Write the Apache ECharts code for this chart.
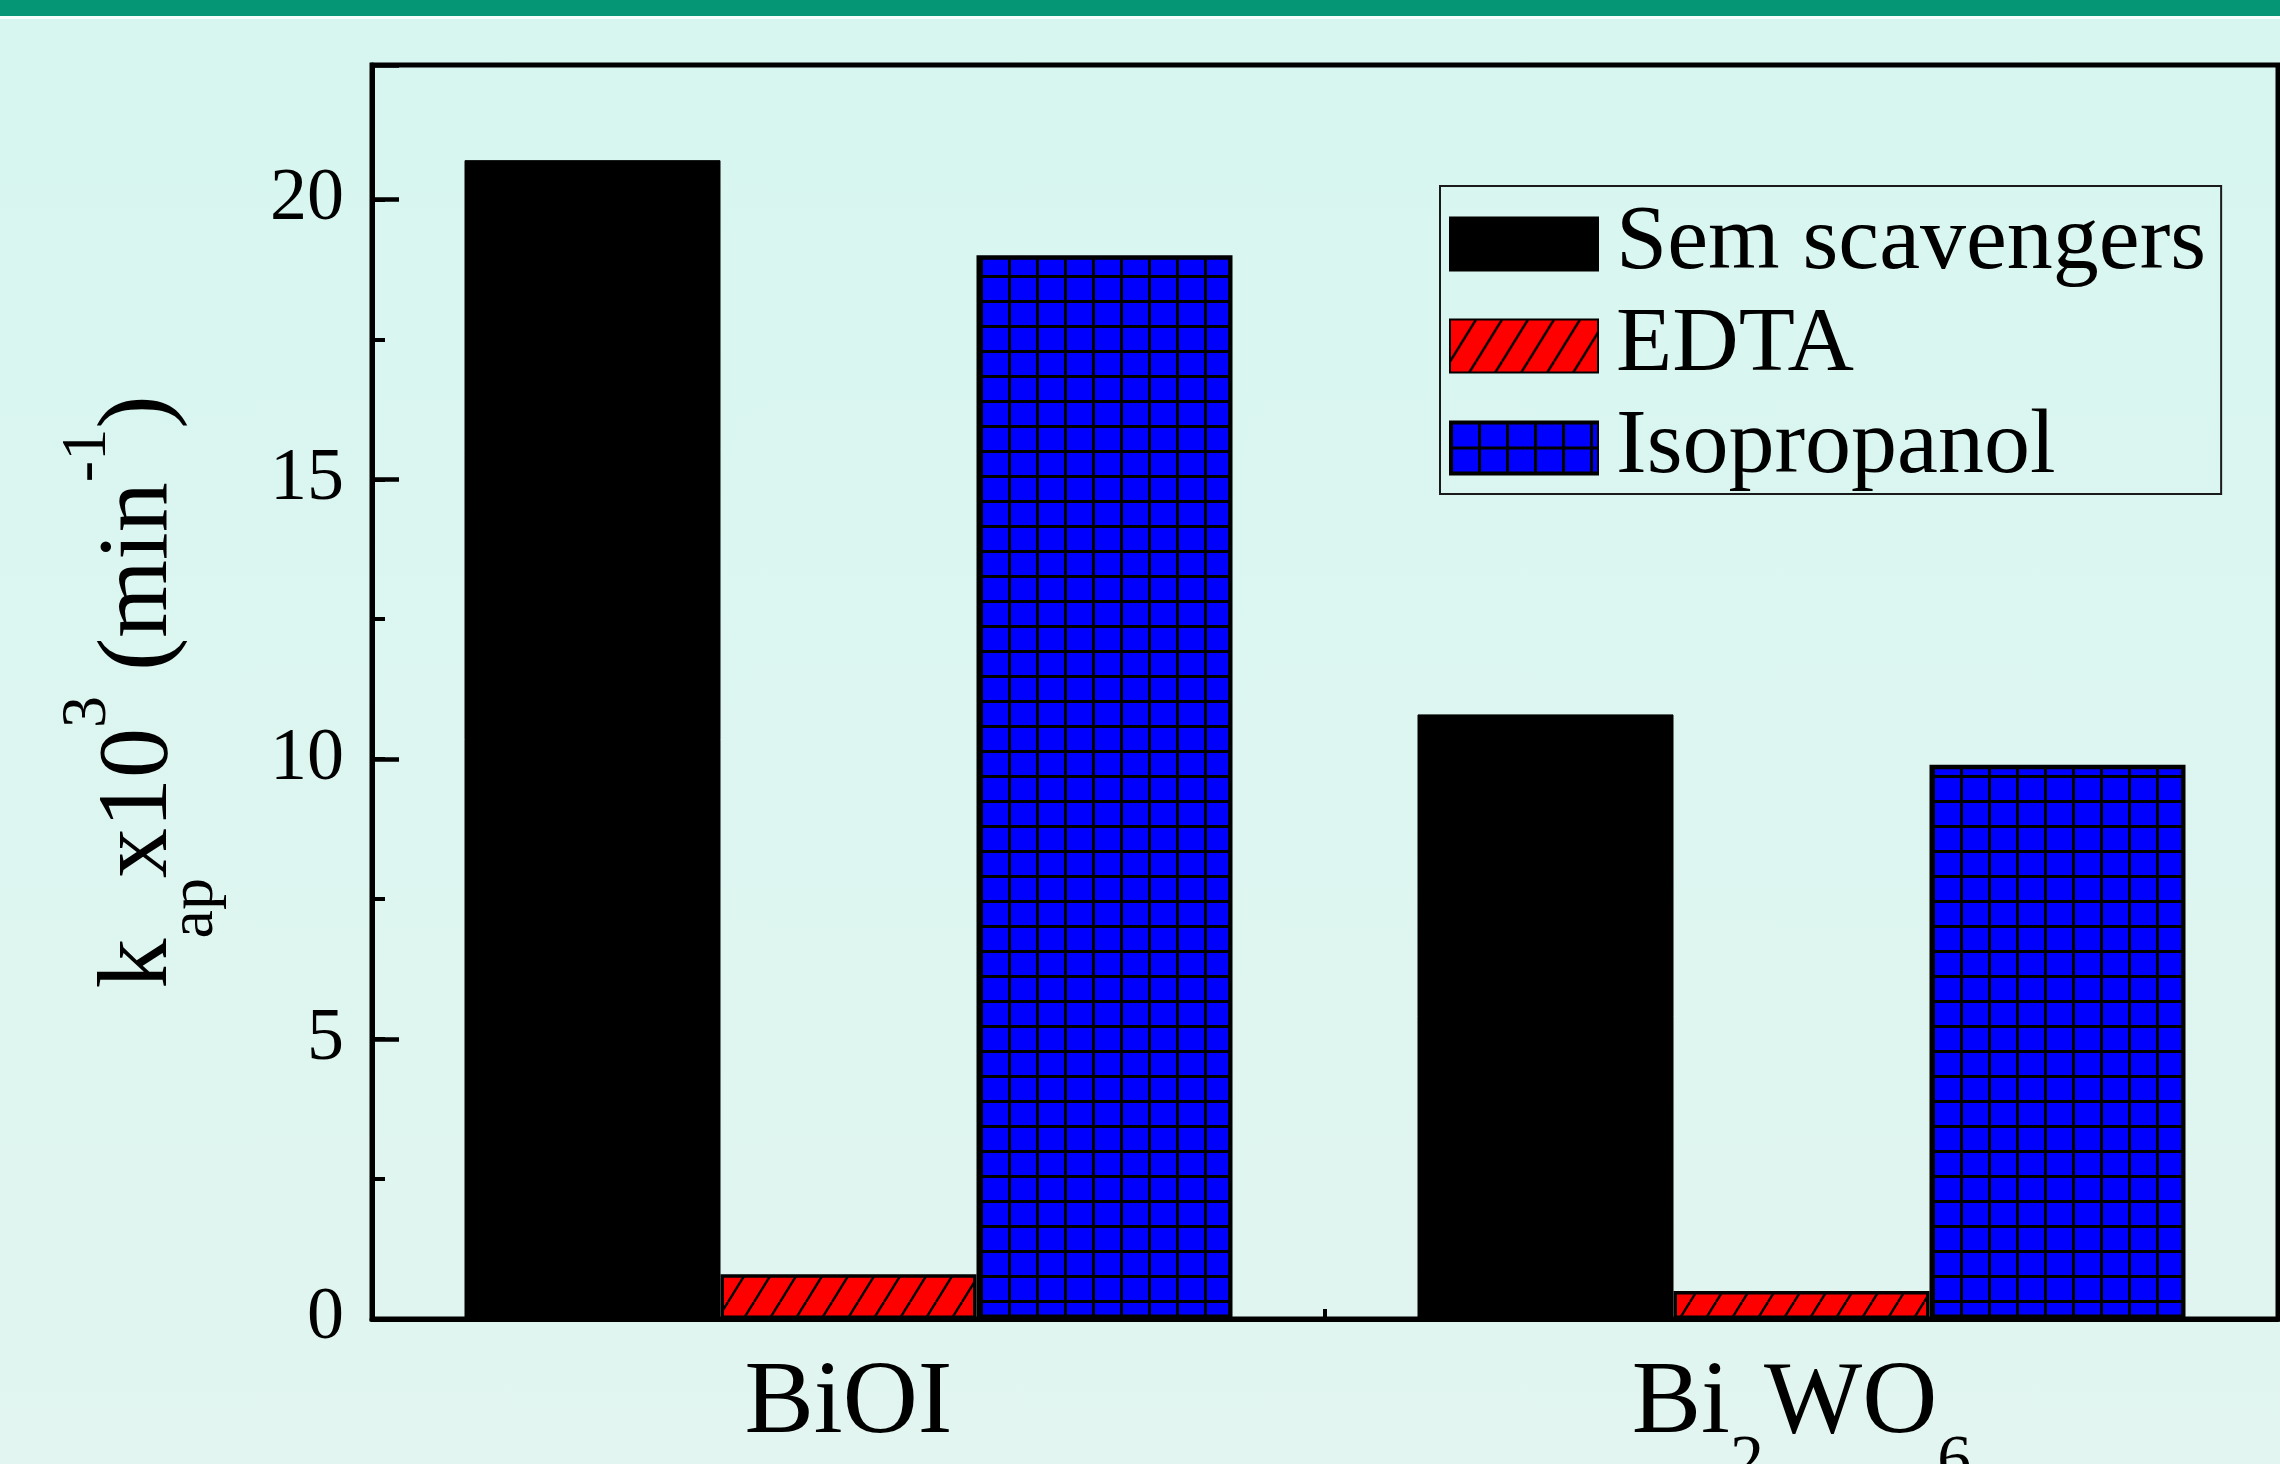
<!DOCTYPE html>
<html>
<head>
<meta charset="utf-8">
<style>
  html, body { margin: 0; padding: 0; width: 2280px; height: 1464px; overflow: hidden; }
  body { position: relative; background: linear-gradient(to bottom, #d7f6f0 0%, #e2f5f0 100%); }
  #band { position: absolute; left: 0; top: 0; width: 2280px; height: 16px; background: #059676; border-bottom: 3px solid #f4fffc; }
  #chart { position: absolute; left: 0; top: 0; width: 2280px; height: 1464px; }
</style>
<script src="https://cdn.jsdelivr.net/npm/echarts@6/dist/echarts.min.js"></script>
</head>
<body>
<div id="band"></div>
<div id="chart"></div>
<script>
// Apparent rate constants k_ap x10^3 (min^-1) per photocatalyst and scavenger
const categories = ['BiOI', 'Bi2WO6'];
const seriesNames = ['Sem scavengers', 'EDTA', 'Isopropanol'];
const semScavengers = [20.7, 10.8];
const edta = [0.8, 0.5];
const isopropanol = [19.0, 9.9];
const yTickLabels = [0, 5, 10, 15, 20];

const FONT = 'Liberation Serif';

// Red fill with black "/" hatching
function hatchPattern() {
  const w = 26, h = 42;
  const c = document.createElement('canvas');
  c.width = w; c.height = h;
  const g = c.getContext('2d');
  g.fillStyle = '#ff0000';
  g.fillRect(0, 0, w, h);
  g.strokeStyle = '#000';
  g.lineWidth = 2.5;
  for (const dx of [-w, 0, w]) {
    g.beginPath();
    g.moveTo(dx, h);
    g.lineTo(dx + w, 0);
    g.stroke();
  }
  return c;
}

// Blue fill with a black square grid
function gridPattern() {
  const w = 28, h = 25;
  const c = document.createElement('canvas');
  c.width = w; c.height = h;
  const g = c.getContext('2d');
  g.fillStyle = '#0000ff';
  g.fillRect(0, 0, w, h);
  g.fillStyle = '#000';
  g.fillRect(0, 0, 3, h);
  g.fillRect(0, 0, w, 3);
  return c;
}

const fills = [
  '#000000',
  { image: hatchPattern(), repeat: 'repeat' },
  { image: gridPattern(), repeat: 'repeat' }
];
const borders = [1, 3.5, 4.5];
const values = [semScavengers, edta, isopropanol];

const chart = echarts.init(document.getElementById('chart'), null, { renderer: 'canvas' });

const option = {
  animation: false,
  backgroundColor: 'transparent',
  grid: {
    left: 372, right: 2, top: 65, bottom: 145,
    containLabel: false,
    outerBoundsMode: 'none',
    show: true, borderColor: '#000', borderWidth: 5, backgroundColor: 'transparent'
  },
  legend: {
    orient: 'vertical',
    left: 1440, top: 186,
    itemWidth: 148, itemHeight: 53, itemGap: 10,
    icon: 'rect',
    padding: [12, 15, 0, 9],
    borderColor: '#1a1a1a', borderWidth: 2,
    textStyle: { fontFamily: FONT, fontSize: 92, color: '#000', padding: [0, 0, 0, 13] },
    data: seriesNames
  },
  xAxis: [
    {
      type: 'category',
      data: categories,
      z: 10,
      axisLine: { lineStyle: { color: '#000', width: 5 } },
      axisTick: { alignWithLabel: true, inside: true, length: 20, lineStyle: { color: '#000', width: 4 } },
      axisLabel: {
        margin: 34,
        formatter: function (v) {
          return v.split(/(\d+)/).filter(Boolean)
            .map(p => /^\d+$/.test(p) ? '{s|' + p + '}' : '{n|' + p + '}').join('');
        },
        rich: {
          n: { fontFamily: FONT, fontSize: 104, color: '#000', verticalAlign: 'top' },
          s: { fontFamily: FONT, fontSize: 68, color: '#000', verticalAlign: 'top', padding: [76, 0, 0, 0] }
        }
      }
    },
    {
      // ticks at the category boundaries
      type: 'value', min: 0, max: 2, interval: 1, position: 'bottom', z: 10,
      axisLine: { show: false },
      axisTick: { show: true, inside: true, length: 10, lineStyle: { color: '#000', width: 4 } },
      axisLabel: { show: false },
      splitLine: { show: false }
    }
  ],
  yAxis: [
    {
      type: 'value', min: 0, max: 22.4, interval: 5,
      axisLine: { show: true, lineStyle: { color: '#000', width: 5 } },
      axisTick: { show: true, inside: true, length: 27, lineStyle: { color: '#000', width: 4.5 } },
      splitLine: { show: false },
      axisLabel: {
        margin: 28, fontFamily: FONT, fontSize: 74, color: '#000',
        formatter: function (v) { return yTickLabels.indexOf(v) >= 0 ? String(v) : ''; }
      },
      name: '{m|k}{sb|ap}{m|x10}{sp|3}{m| (min}{sp|-1}{m|)}',
      nameLocation: 'middle',
      nameRotate: 90,
      nameGap: 145,
      nameTextStyle: {
        rich: {
          m: { fontFamily: FONT, fontSize: 100, color: '#000', verticalAlign: 'top', padding: [34, 0, 0, 0] },
          sb: { fontFamily: FONT, fontSize: 64, color: '#000', verticalAlign: 'top', padding: [107, 0, 0, 0] },
          sp: { fontFamily: FONT, fontSize: 64, color: '#000', verticalAlign: 'top', padding: [0, 0, 0, 0] }
        }
      }
    },
    {
      // minor ticks every 2.5
      type: 'value', min: 0, max: 22.4, interval: 2.5, position: 'left',
      axisLine: { show: false },
      axisTick: { show: true, inside: true, length: 13, lineStyle: { color: '#000', width: 4 } },
      axisLabel: { show: false },
      splitLine: { show: false }
    }
  ],
  series: seriesNames.map((name, i) => ({
    name: name,
    type: 'bar',
    xAxisIndex: 0,
    yAxisIndex: 0,
    data: values[i],
    barWidth: 256,
    barGap: '0%',
    itemStyle: { color: fills[i], borderColor: '#000', borderWidth: borders[i] }
  }))
};

chart.setOption(option);
</script>
</body>
</html>
